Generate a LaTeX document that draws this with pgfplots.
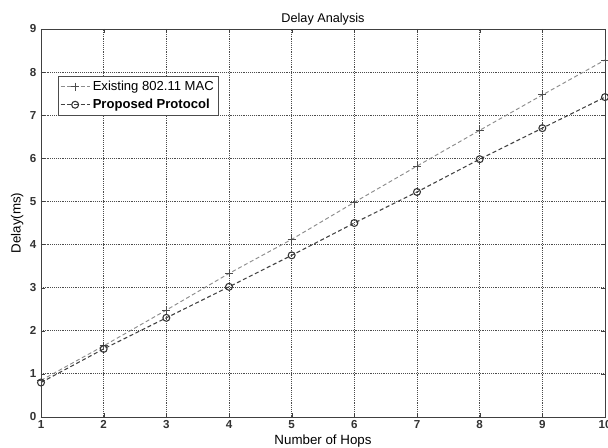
\documentclass[border=0pt]{standalone}
\usepackage{pgfplots}
\pgfplotsset{compat=1.18}
\usepackage{fontspec}
\setmainfont{Liberation Sans}
\usetikzlibrary{calc}
\begin{document}
\begin{tikzpicture}
\begin{axis}[
  scale only axis,
  width=423pt, height=291pt,
  xmin=1, xmax=10, ymin=0, ymax=9,
  xtick={1,...,10}, ytick={0,...,9},
  tick align=inside,
  major tick length=3pt,
  grid=major,
  grid style={black!70, densely dotted, line width=0.6pt},
  axis line style={black!75, line width=0.6pt},
  tick style={black!75},
  /pgf/number format/assume math mode=true,
  ticklabel style={font=\fontsize{8.7}{10}\selectfont\bfseries, text=black!80},
  xticklabel style={yshift=1pt},
  title={Delay Analysis},
  title style={font=\fontsize{9.5}{11}\selectfont, at={(0.5,1)}, anchor=base, yshift=-1pt},
  xlabel={Number of Hops},
  ylabel={Delay(ms)},
  label style={font=\fontsize{10}{12}\selectfont},
  xlabel style={at={(0.5,0)}, anchor=base, yshift=-21pt},
  ylabel style={at={(0,0.5)}, anchor=center, yshift=17.8pt},
  legend style={at={(0.03,0.879)}, anchor=north west, draw=black!70,
    font=\fontsize{9.8}{11.5}\selectfont, inner sep=1.5pt, row sep=1pt,
    cells={anchor=west}},
  legend cell align=left,
  legend image code/.code={\draw[mark repeat=2,mark phase=2,#1] plot coordinates {(0cm,0cm) (0.38cm,0cm) (0.76cm,0cm)};},
]
\addplot[black!45, densely dashed, line width=0.7pt, mark=+, mark size=3pt,
  mark options={solid, black!70, line width=0.7pt}]
  coordinates {(1,0.85) (2,1.65) (3,2.48) (4,3.33) (5,4.12) (6,4.98) (7,5.82) (8,6.65) (9,7.47) (10,8.28)};
\addlegendentry{Existing 802.11 MAC}
\addplot[black!75, densely dashed, line width=0.8pt, mark=o, mark size=2.6pt,
  mark options={solid, black!80, line width=0.8pt}]
  coordinates {(1,0.80) (2,1.58) (3,2.30) (4,3.02) (5,3.75) (6,4.50) (7,5.22) (8,5.98) (9,6.70) (10,7.42)};
\addlegendentry{\textbf{Proposed Protocol}}
\end{axis}
\pgfresetboundingbox
\path[use as bounding box] ($(current axis.south west)+(-30.75pt,-23.25pt)$) rectangle ($(current axis.north east)+(2.25pt,21.75pt)$);
\end{tikzpicture}
\end{document}
